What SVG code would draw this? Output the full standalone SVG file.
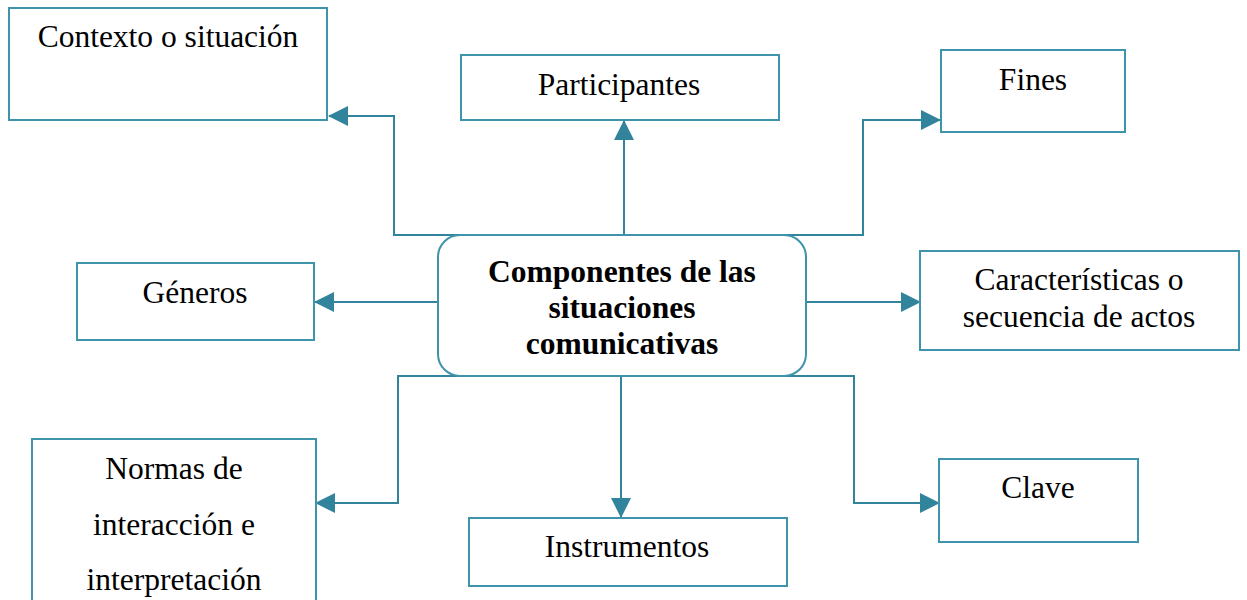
<svg xmlns="http://www.w3.org/2000/svg" width="1247" height="600" viewBox="0 0 1247 600">
<defs>
<style>
.box{fill:#fff;stroke:#3f93ab;stroke-width:2}
.t{font-family:"Liberation Serif","Times New Roman",serif;font-size:31.5px;fill:#000;text-anchor:middle}
.b{font-weight:bold}
.c{fill:none;stroke:#31849b;stroke-width:2}
</style>
<marker id="ah" markerUnits="userSpaceOnUse" markerWidth="20" markerHeight="20" refX="19" refY="10" orient="auto" viewBox="0 0 20 20">
<path d="M0,0 L20,10 L0,20 z" fill="#31849b"/>
</marker>
</defs>
<rect width="1247" height="600" fill="#fff"/>
<g id="connectors">
<path class="c" d="M462,235 H394 V116 H329" marker-end="url(#ah)"/>
<path class="c" d="M624,235 V121" marker-end="url(#ah)"/>
<path class="c" d="M624,235 H863 V120 H940" marker-end="url(#ah)"/>
<path class="c" d="M438,302 H315" marker-end="url(#ah)"/>
<path class="c" d="M806,302 H920" marker-end="url(#ah)"/>
<path class="c" d="M482,376 H398 V503 H316" marker-end="url(#ah)"/>
<path class="c" d="M621,376 V517" marker-end="url(#ah)"/>
<path class="c" d="M770,376 H854 V503 H939" marker-end="url(#ah)"/>
</g>
<g id="center">
<rect class="box" x="438" y="235" width="368" height="141" rx="22"/>
<text class="t b" x="622" y="282">Componentes de las</text>
<text class="t b" x="622" y="318">situaciones</text>
<text class="t b" x="622" y="354">comunicativas</text>
</g>
<g id="contexto">
<rect class="box" x="9" y="8" width="318" height="112"/>
<text class="t" x="168" y="47">Contexto o situación</text>
</g>
<g id="participantes">
<rect class="box" x="461" y="55" width="318" height="65"/>
<text class="t" x="619" y="95">Participantes</text>
</g>
<g id="fines">
<rect class="box" x="941" y="50" width="184" height="82"/>
<text class="t" x="1033" y="90">Fines</text>
</g>
<g id="generos">
<rect class="box" x="77" y="263" width="237" height="77"/>
<text class="t" x="195" y="303">Géneros</text>
</g>
<g id="caracteristicas">
<rect class="box" x="920" y="251" width="319" height="99"/>
<text class="t" x="1079" y="290">Características o</text>
<text class="t" x="1079" y="327">secuencia de actos</text>
</g>
<g id="normas">
<rect class="box" x="32" y="439" width="284" height="180"/>
<text class="t" x="174" y="479">Normas de</text>
<text class="t" x="174" y="535">interacción e</text>
<text class="t" x="174" y="590">interpretación</text>
</g>
<g id="instrumentos">
<rect class="box" x="469" y="518" width="318" height="68"/>
<text class="t" x="627" y="557">Instrumentos</text>
</g>
<g id="clave">
<rect class="box" x="939" y="459" width="199" height="83"/>
<text class="t" x="1038" y="498">Clave</text>
</g>
</svg>
